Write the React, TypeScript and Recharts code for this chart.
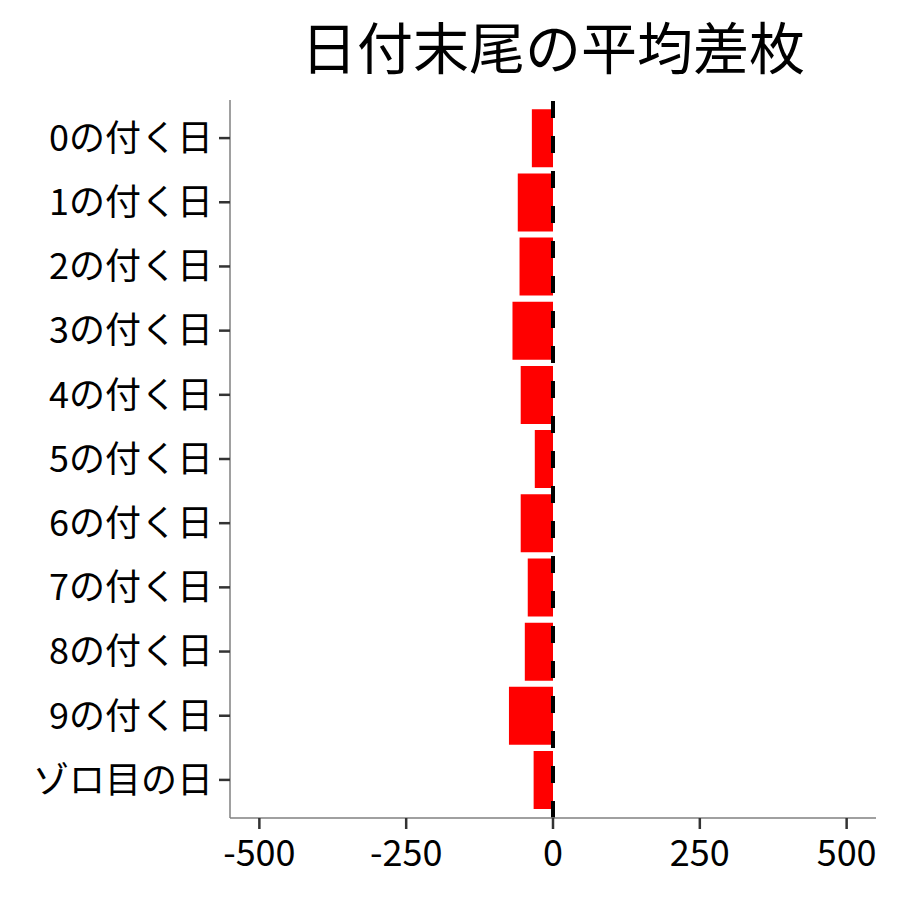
import { BarChart, Bar, XAxis, YAxis, ReferenceLine } from "recharts"

const categories = [
    "0の付く日",
    "1の付く日",
    "2の付く日",
    "3の付く日",
    "4の付く日",
    "5の付く日",
    "6の付く日",
    "7の付く日",
    "8の付く日",
    "9の付く日",
    "ゾロ目の日",
]

// average difference in medals per category
const avgDiff = [-36, -60, -57, -69, -55, -31, -55, -43, -48, -75, -33]

const xTicks = [-500, -250, 0, 250, 500]

const FONT = "'Noto Sans CJK JP', 'Noto Sans', sans-serif"

export default function App() {
    const chartData = categories.map((name, i) => ({ name, value: avgDiff[i] }))

    return (
        <div style={{ position: "absolute", left: 0, top: 0, width: 900, height: 900, background: "#fff", fontFamily: FONT }}>
            <div
                style={{
                    position: "absolute",
                    left: 553,
                    top: 17,
                    transform: "translateX(-50%)",
                    whiteSpace: "nowrap",
                    fontSize: 56,
                    lineHeight: "56px",
                    color: "#000",
                }}
            >
                日付末尾の平均差枚
            </div>
            <BarChart
                width={900}
                height={900}
                data={chartData}
                layout="vertical"
                margin={{ top: 100, right: 24, bottom: 22, left: 0 }}
                barCategoryGap="5%"
            >
                <XAxis
                    type="number"
                    domain={[-550, 550]}
                    ticks={xTicks}
                    allowDataOverflow
                    height={60}
                    tickSize={11}
                    tickMargin={11}
                    axisLine={{ stroke: "#808080", strokeWidth: 1.5 }}
                    tickLine={{ stroke: "#333333", strokeWidth: 2.5 }}
                    tick={{ fontSize: 36, fill: "#000", fontFamily: FONT }}
                />
                <YAxis
                    type="category"
                    dataKey="name"
                    width={230}
                    padding={{ top: 6, bottom: 6 }}
                    tickSize={11}
                    tickMargin={6}
                    axisLine={{ stroke: "#808080", strokeWidth: 1.5 }}
                    tickLine={{ stroke: "#333333", strokeWidth: 2.5 }}
                    tick={{ fontSize: 36, fill: "#000", fontFamily: FONT }}
                    interval={0}
                />
                <Bar dataKey="value" fill="#ff0000" isAnimationActive={false} />
                <ReferenceLine x={0} stroke="#000" strokeWidth={4} strokeDasharray="17 18" />
            </BarChart>
        </div>
    )
}
